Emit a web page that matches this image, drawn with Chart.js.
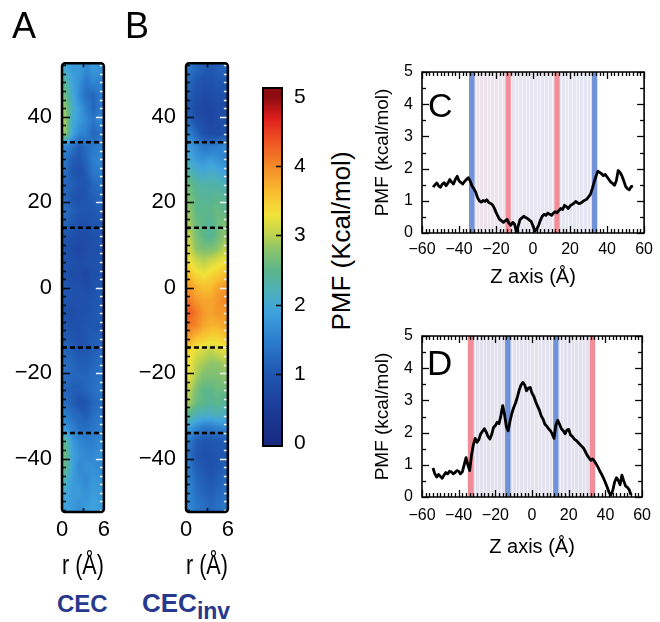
<!DOCTYPE html>
<html>
<head>
<meta charset="utf-8">
<script src="https://cdn.jsdelivr.net/npm/chart.js@4.4.1/dist/chart.umd.min.js"></script>
<style>
    body { margin: 0; background: #fff; }
    #fig { position: relative; width: 660px; height: 622px; overflow: hidden;
           font-family: "Liberation Sans", Arial, Helvetica, sans-serif; color: #000; }
    #fig canvas { position: absolute; }
    .lbl { position: absolute; line-height: 1; white-space: nowrap; }
    .cec { font-weight: bold; font-size: 24px; color: #27398c; }
    .cec sub { font-size: 23px; vertical-align: -7px; }
</style>
</head>
<body>
<div id="fig">
    <canvas id="mapA" width="115" height="545" style="left:0;top:40px"></canvas>
    <canvas id="mapB" width="115" height="545" style="left:124px;top:40px"></canvas>
    <canvas id="cbar" width="80" height="420" style="left:240px;top:60px"></canvas>
    <canvas id="pmfC" width="290" height="250" style="left:370px;top:50px"></canvas>
    <canvas id="pmfD" width="290" height="250" style="left:370px;top:314px"></canvas>

    <div class="lbl" style="left:12px;top:8px;font-size:36px">A</div>
    <div class="lbl" style="left:125px;top:8px;font-size:36px">B</div>
    <div class="lbl" style="left:428px;top:88px;font-size:34px">C</div>
    <div class="lbl" style="left:427px;top:345px;font-size:35px">D</div>
    <div class="lbl cec" style="left:57px;top:592px">CEC</div>
    <div class="lbl cec" style="left:142px;top:590px;font-size:26px">CEC<sub>inv</sub></div>
    <div class="lbl" style="left:241px;top:228px;width:200px;text-align:center;font-size:26px;transform:rotate(-90deg)">PMF (Kcal/mol)</div>
</div>

<script>
/* ---------- 数据 ---------- */

// 热图: 行 = z (Å), 列 = r (Å)
const zRows = [51, 48, 45, 42, 39, 36, 33, 30, 27, 24, 21, 18, 15, 12, 9, 6, 3, 0,
               -3, -6, -9, -12, -15, -18, -21, -24, -27, -30, -33, -36, -39, -42, -45, -48, -51];
const rCols = [0.5, 1.5, 2.5, 3.5, 4.5, 5.5];

const pmfCEC = [
    [2.0, 1.8, 1.8, 1.6, 1.8, 1.7],
    [2.4, 1.9, 1.7, 1.4, 1.6, 1.5],
    [2.6, 2.0, 1.6, 1.3, 1.2, 1.5],
    [2.8, 2.1, 1.8, 1.5, 1.2, 1.4],
    [2.9, 2.0, 1.8, 1.6, 1.4, 1.6],
    [2.8, 1.9, 1.6, 1.5, 1.2, 1.3],
    [1.6, 1.4, 1.1, 1.3, 1.4, 1.5],
    [1.4, 1.1, 1.0, 1.2, 1.5, 1.6],
    [1.3, 1.0, 0.9, 1.1, 1.4, 1.5],
    [1.2, 1.1, 1.0, 1.0, 1.2, 1.3],
    [1.2, 1.0, 0.9, 1.0, 1.1, 1.2],
    [1.3, 1.1, 1.0, 1.0, 1.0, 1.1],
    [1.2, 1.0, 0.9, 0.9, 1.0, 1.0],
    [1.0, 0.9, 0.8, 0.8, 0.9, 1.0],
    [0.9, 0.8, 0.7, 0.8, 0.9, 0.9],
    [1.0, 0.9, 0.8, 0.9, 0.9, 1.0],
    [0.9, 0.8, 0.8, 0.7, 0.9, 0.9],
    [1.0, 0.9, 0.9, 0.8, 0.9, 1.0],
    [1.0, 0.9, 0.9, 0.9, 1.0, 1.0],
    [0.9, 0.8, 0.9, 0.9, 1.0, 1.1],
    [1.0, 0.9, 0.9, 1.0, 1.0, 1.0],
    [1.1, 1.0, 0.9, 1.0, 1.1, 1.1],
    [1.2, 1.1, 1.0, 1.0, 1.1, 1.2],
    [1.3, 1.2, 1.1, 1.1, 1.2, 1.3],
    [1.3, 1.2, 1.2, 1.2, 1.3, 1.3],
    [1.2, 1.1, 1.1, 1.2, 1.3, 1.4],
    [1.3, 1.1, 0.9, 1.0, 1.2, 1.3],
    [1.5, 1.3, 1.2, 1.1, 1.3, 1.4],
    [1.8, 1.5, 1.3, 1.3, 1.4, 1.5],
    [2.4, 1.8, 1.6, 1.5, 1.5, 1.6],
    [2.6, 1.9, 1.7, 1.6, 1.6, 1.7],
    [2.5, 1.9, 1.6, 1.7, 1.7, 1.6],
    [2.2, 1.8, 1.7, 1.6, 1.8, 1.7],
    [2.0, 1.8, 1.8, 1.7, 1.8, 1.8],
    [1.9, 1.8, 1.7, 1.8, 1.9, 1.8]
];

const pmfCECinv = [
    [1.4, 1.2, 1.1, 1.0, 1.1, 1.2],
    [1.2, 1.0, 0.9, 0.9, 1.0, 1.0],
    [1.1, 0.9, 0.8, 0.8, 0.9, 0.9],
    [1.0, 0.8, 0.7, 0.7, 0.8, 0.8],
    [1.2, 0.9, 0.8, 0.7, 0.8, 0.9],
    [1.5, 1.2, 0.9, 0.8, 0.8, 0.9],
    [1.8, 1.6, 1.4, 1.4, 1.5, 1.6],
    [2.0, 1.8, 1.7, 1.8, 1.7, 1.6],
    [2.3, 2.1, 2.0, 2.1, 2.0, 1.9],
    [2.6, 2.4, 2.3, 2.3, 2.3, 2.2],
    [2.7, 2.5, 2.4, 2.4, 2.5, 2.4],
    [2.8, 2.5, 2.5, 2.5, 2.6, 2.5],
    [2.9, 2.6, 2.5, 2.4, 2.6, 2.7],
    [3.0, 2.7, 2.5, 2.4, 2.6, 2.8],
    [3.1, 2.8, 2.7, 2.7, 2.8, 3.0],
    [3.3, 3.1, 3.0, 3.1, 3.2, 3.3],
    [3.6, 3.4, 3.3, 3.4, 3.5, 3.6],
    [3.9, 3.7, 3.6, 3.6, 3.8, 3.9],
    [4.1, 3.9, 3.8, 3.8, 3.9, 4.0],
    [4.3, 4.1, 3.9, 3.8, 3.9, 3.9],
    [4.1, 4.0, 3.8, 3.7, 3.7, 3.8],
    [3.8, 3.6, 3.5, 3.4, 3.4, 3.5],
    [3.4, 3.2, 3.1, 3.0, 3.1, 3.2],
    [3.3, 3.0, 2.9, 2.8, 2.8, 2.9],
    [3.2, 2.9, 2.7, 2.7, 2.7, 2.8],
    [3.0, 2.7, 2.5, 2.5, 2.6, 2.6],
    [2.9, 2.6, 2.5, 2.4, 2.5, 2.4],
    [2.4, 2.2, 2.1, 2.1, 2.2, 2.1],
    [1.8, 1.6, 1.4, 1.4, 1.5, 1.6],
    [1.4, 1.1, 1.0, 1.0, 1.0, 1.1],
    [1.3, 1.0, 0.9, 0.9, 1.0, 1.0],
    [1.4, 1.1, 1.0, 0.9, 1.0, 1.1],
    [1.5, 1.2, 1.1, 1.0, 1.1, 1.2],
    [1.6, 1.3, 1.2, 1.1, 1.2, 1.3],
    [1.6, 1.4, 1.3, 1.2, 1.3, 1.4]
];

const zDividers = [34, 14, -14, -34];
const mapZTicks = [-40, -20, 0, 20, 40];
const mapRTicks = [0, 6];
const barTicks = [0, 1, 2, 3, 4, 5];

// PMF 曲线 (C, D)
const zLine = [
    -54, -53, -52, -51, -50, -49, -48, -47, -46, -45, -44, -43, -42, -41, -40, -39, -38, -37,
    -36, -35, -34, -33, -32, -31, -30, -29, -28, -27, -26, -25, -24, -23, -22, -21, -20, -19,
    -18, -17, -16, -15, -14, -13, -12, -11, -10, -9, -8, -7, -6, -5, -4, -3, -2, -1,
    0, 1, 2, 3, 4, 5, 6, 7, 8, 9, 10, 11, 12, 13, 14, 15, 16, 17,
    18, 19, 20, 21, 22, 23, 24, 25, 26, 27, 28, 29, 30, 31, 32, 33, 34, 35,
    36, 37, 38, 39, 40, 41, 42, 43, 44, 45, 46, 47, 48, 49, 50, 51, 52, 53, 54
];

const pmfLineC = [
    1.42, 1.50, 1.55, 1.46, 1.42, 1.52, 1.56, 1.47, 1.55, 1.66, 1.58, 1.52, 1.66, 1.76, 1.62, 1.57, 1.52, 1.60,
    1.66, 1.72, 1.62, 1.46, 1.38, 1.27, 1.10, 1.00, 0.96, 1.01, 0.98, 1.03, 0.95, 0.92, 0.88, 0.78, 0.64, 0.52,
    0.42, 0.38, 0.33, 0.38, 0.42, 0.30, 0.24, 0.33, 0.28, 0.04, 0.22, 0.42, 0.47, 0.52, 0.48, 0.45, 0.40, 0.36,
    0.22, 0.06, 0.12, 0.24, 0.40, 0.52, 0.58, 0.55, 0.62, 0.58, 0.55, 0.62, 0.66, 0.63, 0.70, 0.76, 0.73, 0.86,
    0.82, 0.76, 0.84, 0.88, 0.92, 0.98, 0.94, 0.91, 0.94, 0.98, 1.02, 1.05, 1.12, 1.20, 1.38, 1.58, 1.76, 1.92,
    1.88, 1.84, 1.78, 1.82, 1.74, 1.66, 1.58, 1.54, 1.48, 1.62, 1.94, 1.88, 1.78, 1.62, 1.45, 1.38, 1.34, 1.44, 1.46
];

const pmfLineD = [
    0.90, 0.72, 0.62, 0.70, 0.64, 0.58, 0.68, 0.76, 0.72, 0.80, 0.78, 0.72, 0.76, 0.82, 0.80, 0.72, 0.78, 1.00,
    1.22, 1.00, 0.82, 1.30, 1.62, 1.82, 1.70, 1.78, 1.96, 2.04, 2.12, 2.02, 1.88, 1.80, 1.94, 2.16, 2.22, 2.32,
    2.28, 2.52, 2.84, 2.56, 2.18, 2.06, 2.36, 2.60, 2.78, 2.92, 3.10, 3.32, 3.48, 3.56, 3.48, 3.30, 3.38, 3.40,
    3.22, 3.12, 2.96, 2.82, 2.70, 2.52, 2.42, 2.26, 2.20, 2.12, 2.06, 1.96, 1.82, 2.24, 2.38, 2.26, 2.12, 2.06,
    1.96, 2.08, 2.10, 1.92, 1.88, 1.80, 1.76, 1.70, 1.64, 1.58, 1.52, 1.42, 1.30, 1.22, 1.14, 1.18, 1.12, 1.02,
    0.92, 0.80, 0.70, 0.58, 0.44, 0.30, 0.14, 0.06, 0.20, 0.46, 0.60, 0.52, 0.38, 0.68, 0.50, 0.34, 0.30, 0.22, 0.06
];

const zTicks = [-60, -40, -20, 0, 20, 40, 60];
const pmfTicks = [0, 1, 2, 3, 4, 5];

// 膜区域阴影和标记带 [起, 止]
const shadeC = [[-31.6, -14.9, '#ede3ec'], [-12.0, 11.5, '#e7e5f1'], [14.4, 31.8, '#e4e6f1']];
const bandsC = [[-34.6, -31.6, '#7192d8'], [-14.9, -12.0, '#f28d97'], [11.5, 14.4, '#f28d97'], [31.8, 34.7, '#7192d8']];
const shadeD = [[-31.8, -14.7, '#e2e1ed'], [-11.7, 11.5, '#e3e2ee'], [14.4, 31.4, '#e2e1ed']];
const bandsD = [[-35.0, -31.8, '#f28d97'], [-14.7, -11.7, '#7192d8'], [11.5, 14.4, '#7192d8'], [31.4, 34.4, '#f28d97']];

// 色标 (jet 风格)
const cmapStops = [
    [0.0, '#172a80'], [0.5, '#1c3c98'], [1.0, '#1f56b0'], [1.5, '#2c7fce'],
    [1.9, '#3fa3dd'], [2.2, '#4db0b8'], [2.5, '#5cb68a'], [2.8, '#8cc46a'],
    [3.0, '#bcd24e'], [3.3, '#f1e33a'], [3.6, '#f8c030'], [4.0, '#f48a28'],
    [4.4, '#ee4c22'], [4.7, '#dc1c1c'], [5.0, '#8c0c10']
];

/* ---------- 工具 ---------- */

const FONT = '"Liberation Sans", Arial, Helvetica, sans-serif';
Chart.defaults.font.family = FONT;
Chart.defaults.color = '#000';

const minus = v => (v < 0 ? '\u2212' + Math.abs(v) : String(v));

function hexRgb(h) {
    return [parseInt(h.slice(1, 3), 16), parseInt(h.slice(3, 5), 16), parseInt(h.slice(5, 7), 16)];
}

function pmfColor(v) {
    const s = cmapStops;
    if (v <= s[0][0]) return hexRgb(s[0][1]);
    for (let i = 1; i < s.length; i++) {
        if (v <= s[i][0]) {
            const t = (v - s[i - 1][0]) / (s[i][0] - s[i - 1][0]);
            const a = hexRgb(s[i - 1][1]);
            const b = hexRgb(s[i][1]);
            return a.map((c, k) => Math.round(c + (b[k] - c) * t));
        }
    }
    return hexRgb(s[s.length - 1][1]);
}

function fixedTicks(list) {
    return scale => { scale.ticks = list.map(v => ({ value: v })); };
}

/**
 * 热图: 按像素在网格上双线性插值后上色
 */
const heatPlugin = {
    id: 'heat',
    beforeDatasetsDraw(chart) {
        const ds = chart.data.datasets[0];
        if (!ds || !ds.grid) return;
        const { ctx, chartArea: a, scales: { x, y } } = chart;
        const w = Math.round(a.right - a.left);
        const h = Math.round(a.bottom - a.top);
        const img = ctx.createImageData(w, h);
        const rows = ds.rows, cols = ds.cols, g = ds.grid;
        const clamp = (v, lo, hi) => Math.max(lo, Math.min(hi, v));

        for (let py = 0; py < h; py++) {
            const z = y.getValueForPixel(a.top + py + 0.5);
            const fi = clamp((rows[0] - z) / (rows[0] - rows[1]), 0, rows.length - 1);
            const i0 = Math.floor(fi), i1 = Math.min(i0 + 1, rows.length - 1), ti = fi - i0;
            for (let px = 0; px < w; px++) {
                const r = x.getValueForPixel(a.left + px + 0.5);
                const fj = clamp((r - cols[0]) / (cols[1] - cols[0]), 0, cols.length - 1);
                const j0 = Math.floor(fj), j1 = Math.min(j0 + 1, cols.length - 1), tj = fj - j0;
                const top = g[i0][j0] * (1 - tj) + g[i0][j1] * tj;
                const bot = g[i1][j0] * (1 - tj) + g[i1][j1] * tj;
                const c = pmfColor(top * (1 - ti) + bot * ti);
                const k = (py * w + px) * 4;
                img.data[k] = c[0]; img.data[k + 1] = c[1]; img.data[k + 2] = c[2]; img.data[k + 3] = 255;
            }
        }
        ctx.putImageData(img, Math.round(a.left), Math.round(a.top));
    }
};

/**
 * 色标渐变
 */
const colorbarPlugin = {
    id: 'colorbar',
    beforeDatasetsDraw(chart) {
        const { ctx, chartArea: a, scales: { y } } = chart;
        const grad = ctx.createLinearGradient(0, a.bottom, 0, a.top);
        cmapStops.forEach(([v, col]) => {
            const p = (y.getPixelForValue(v) - a.bottom) / (a.top - a.bottom);
            grad.addColorStop(Math.max(0, Math.min(1, p)), col);
        });
        ctx.fillStyle = grad;
        ctx.fillRect(a.left, a.top, a.right - a.left, a.bottom - a.top);
    }
};

/**
 * 阴影和竖直标记带
 */
function bandsPlugin(shade, bands) {
    return {
        id: 'bands',
        beforeDatasetsDraw(chart) {
            const { ctx, chartArea: a, scales: { x } } = chart;
            ctx.save();
            shade.forEach(([lo, hi, col]) => {
                const x0 = x.getPixelForValue(lo), x1 = x.getPixelForValue(hi);
                ctx.fillStyle = col;
                ctx.fillRect(x0, a.top, x1 - x0, a.bottom - a.top);
                // 阴影区里的细竖线
                ctx.strokeStyle = 'rgba(255,255,255,0.55)';
                ctx.lineWidth = 1;
                for (let v = Math.ceil(lo); v < hi; v += 2) {
                    const px = Math.round(x.getPixelForValue(v)) + 0.5;
                    ctx.beginPath(); ctx.moveTo(px, a.top); ctx.lineTo(px, a.bottom); ctx.stroke();
                }
            });
            bands.forEach(([lo, hi, col]) => {
                const x0 = x.getPixelForValue(lo), x1 = x.getPixelForValue(hi);
                ctx.fillStyle = col;
                ctx.fillRect(x0, a.top, x1 - x0, a.bottom - a.top);
            });
            ctx.restore();
        }
    };
}

/**
 * 边框、向内刻度和虚线
 */
function framePlugin(cfg) {
    return {
        id: 'frame',
        afterDraw(chart) {
            const ctx = chart.ctx;
            const a = chart.chartArea;
            const x = chart.scales.x;
            const y = chart.scales.y;
            ctx.save();
            const isMajor = (list, v) => (list || []).some(m => Math.abs(m - v) < 1e-6);
            const snap = p => Math.round(p) + 0.5;

            if (cfg.dividers) {
                ctx.lineWidth = 2.5;
                ctx.strokeStyle = '#000';
                ctx.setLineDash([5, 3]);
                cfg.dividers.forEach(v => {
                    const py = y.getPixelForValue(v);
                    ctx.beginPath(); ctx.moveTo(a.left, py); ctx.lineTo(a.right, py); ctx.stroke();
                });
                ctx.setLineDash([]);
            }

            const marks = [];   // [x0, y0, x1, y1, colour]
            if (cfg.yStep) {
                const n = Math.round((cfg.yRange[1] - cfg.yRange[0]) / cfg.yStep);
                for (let k = 0; k <= n; k++) {
                    const v = cfg.yRange[0] + k * cfg.yStep;
                    const len = isMajor(cfg.yMajor, v) ? cfg.majorLen : cfg.minorLen;
                    const py = snap(y.getPixelForValue(v));
                    marks.push([a.left, py, a.left + len, py, cfg.leftColor]);
                    marks.push([a.right, py, a.right - len, py, cfg.rightColor]);
                }
            }
            if (cfg.xStep) {
                const n = Math.round((cfg.xRange[1] - cfg.xRange[0]) / cfg.xStep);
                for (let k = 0; k <= n; k++) {
                    const v = cfg.xRange[0] + k * cfg.xStep;
                    const len = isMajor(cfg.xMajor, v) ? cfg.majorLen : cfg.minorLen;
                    const px = snap(x.getPixelForValue(v));
                    marks.push([px, a.bottom, px, a.bottom - len, cfg.bottomColor]);
                    marks.push([px, a.top, px, a.top + len, cfg.topColor]);
                }
            }
            if (cfg.yList) {
                cfg.yList.forEach(v => {
                    const py = snap(y.getPixelForValue(v));
                    marks.push([a.right, py, a.right - cfg.majorLen, py, '#000']);
                });
            }
            ctx.lineWidth = cfg.tickWidth || 1;
            marks.forEach(([x0, y0, x1, y1, col]) => {
                ctx.strokeStyle = col;
                ctx.beginPath(); ctx.moveTo(x0, y0); ctx.lineTo(x1, y1); ctx.stroke();
            });

            ctx.lineWidth = cfg.boxWidth;
            ctx.strokeStyle = '#000';
            ctx.beginPath();
            if (cfg.radius && ctx.roundRect) {
                ctx.roundRect(a.left, a.top, a.right - a.left, a.bottom - a.top, cfg.radius);
            } else {
                ctx.rect(a.left, a.top, a.right - a.left, a.bottom - a.top);
            }
            ctx.stroke();
            ctx.restore();
        }
    };
}

/* ---------- 图表 ---------- */

function renderMap(id, grid) {
    const cells = [];
    zRows.forEach((z, i) => rCols.forEach((r, j) => cells.push({ x: r, y: z, v: grid[i][j] })));

    return new Chart(document.getElementById(id), {
        type: 'scatter',
        data: {
            datasets: [{ data: cells, grid, rows: zRows, cols: rCols, pointRadius: 0, pointHoverRadius: 0 }]
        },
        options: {
            responsive: false,
            animation: false,
            devicePixelRatio: 1,
            events: [],
            layout: { padding: { top: 11, right: 9, left: 0, bottom: 2 } },
            scales: {
                x: {
                    type: 'linear', min: 0, max: 6,
                    afterBuildTicks: fixedTicks(mapRTicks),
                    afterFit: s => { s.height = 71; },
                    grid: { display: false, drawTicks: false },
                    border: { display: false },
                    ticks: { font: { size: 22 }, padding: 5, maxRotation: 0, callback: minus },
                    title: { display: true, text: 'r (Å)', font: { size: 28 }, padding: { top: 0, bottom: 0 } }
                },
                y: {
                    type: 'linear', min: -52.5, max: 52.5,
                    afterBuildTicks: fixedTicks(mapZTicks),
                    afterFit: s => { s.width = 62; },
                    grid: { display: false, drawTicks: false },
                    border: { display: false },
                    ticks: { font: { size: 22 }, padding: 10, callback: minus }
                }
            },
            plugins: { legend: { display: false }, tooltip: { enabled: false } }
        },
        plugins: [heatPlugin, framePlugin({
            dividers: zDividers, boxWidth: 2.5, radius: 3, tickWidth: 1.5,
            yStep: 2, yRange: [-52, 52], yMajor: mapZTicks, majorLen: 8, minorLen: 4,
            xStep: 3, xRange: [3, 3], xMajor: [],
            leftColor: '#000', rightColor: '#f2f6fb', topColor: '#000', bottomColor: '#000'
        })]
    });
}

function renderColorbar() {
    return new Chart(document.getElementById('cbar'), {
        type: 'scatter',
        data: { datasets: [] },
        options: {
            responsive: false,
            animation: false,
            devicePixelRatio: 1,
            events: [],
            layout: { padding: { top: 28, bottom: 34, left: 23, right: 0 } },
            scales: {
                x: { type: 'linear', min: 0, max: 1, display: false },
                y: {
                    type: 'linear', position: 'right', min: -0.04, max: 5.13,
                    afterBuildTicks: fixedTicks(barTicks),
                    afterFit: s => { s.width = 38; },
                    grid: { display: false, drawTicks: false },
                    border: { display: false },
                    ticks: { font: { size: 21 }, padding: 12 }
                }
            },
            plugins: { legend: { display: false }, tooltip: { enabled: false } }
        },
        plugins: [colorbarPlugin, framePlugin({
            boxWidth: 2, tickWidth: 1.5, majorLen: 6, yList: [1, 2, 3, 4]
        })]
    });
}

function renderPmf(id, values, shade, bands, tickPad, titlePad) {
    return new Chart(document.getElementById(id), {
        type: 'line',
        data: {
            datasets: [{
                label: 'PMF',
                data: zLine.map((z, i) => ({ x: z, y: values[i] })),
                borderColor: '#000',
                borderWidth: 2.8,
                borderJoinStyle: 'round',
                pointRadius: 0,
                fill: false,
                tension: 0
            }]
        },
        options: {
            responsive: false,
            animation: false,
            devicePixelRatio: 1,
            events: [],
            layout: { padding: { top: 22, right: 11, left: 0, bottom: 0 } },
            scales: {
                x: {
                    type: 'linear', min: -60, max: 60,
                    afterBuildTicks: fixedTicks(zTicks),
                    afterFit: s => { s.height = 250 - 22 - 161; },
                    grid: { display: false, drawTicks: false },
                    border: { display: false },
                    ticks: { font: { size: 16 }, padding: tickPad, maxRotation: 0, callback: minus },
                    title: { display: true, text: 'Z axis (Å)', font: { size: 20 }, padding: { top: 0, bottom: titlePad } }
                },
                y: {
                    type: 'linear', min: 0, max: 5,
                    afterBuildTicks: fixedTicks(pmfTicks),
                    afterFit: s => { s.width = 52; },
                    grid: { display: false, drawTicks: false },
                    border: { display: false },
                    ticks: { font: { size: 16 }, padding: 9 },
                    title: { display: true, text: 'PMF (kcal/mol)', font: { size: 19 }, padding: { top: 1, bottom: 0 } }
                }
            },
            plugins: { legend: { display: false }, tooltip: { enabled: false } }
        },
        plugins: [bandsPlugin(shade, bands), framePlugin({
            boxWidth: 1.6, tickWidth: 1.3, majorLen: 7, minorLen: 4,
            yStep: 0.5, yRange: [0, 5], yMajor: pmfTicks,
            xStep: 2, xRange: [-60, 60], xMajor: zTicks,
            leftColor: '#000', rightColor: '#000', topColor: '#000', bottomColor: '#000'
        })]
    });
}

renderMap('mapA', pmfCEC);
renderMap('mapB', pmfCECinv);
renderColorbar();
renderPmf('pmfC', pmfLineC, shadeC, bandsC, 7, 11);
renderPmf('pmfD', pmfLineD, shadeD, bandsD, 9, 5);
</script>
</body>
</html>
